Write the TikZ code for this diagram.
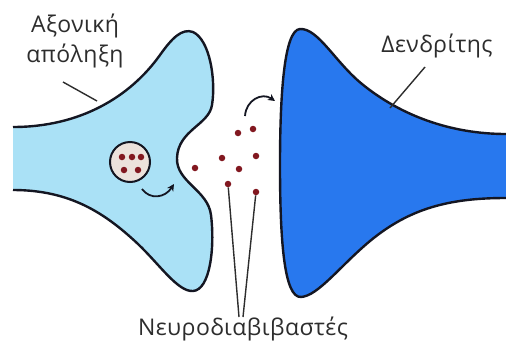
\documentclass[tikz,border=0pt]{standalone}
\usepackage{fontspec}
\setmainfont{Open Sans}[LetterSpace=2]
\usetikzlibrary{arrows.meta}
\definecolor{axonfill}{RGB}{170,225,246}
\definecolor{dendfill}{RGB}{40,120,238}
\definecolor{outline}{RGB}{20,22,34}
\definecolor{ntred}{RGB}{130,24,32}
\definecolor{vesfill}{RGB}{236,226,220}
\definecolor{labelgray}{RGB}{45,45,45}
\tikzset{
  membrane/.style={draw=outline, line width=2.4pt, line join=round},
  ntdot/.style={circle, fill=ntred, inner sep=0pt, minimum size=6.5pt},
  leader/.style={draw=labelgray, line width=1.4pt},
  flow/.style={draw=outline, line width=1.8pt, -{Stealth[length=7pt,width=7pt]}},
  lbl/.style={text=labelgray, font=\fontsize{23}{30}\selectfont, align=center, inner sep=0pt}
}
\begin{document}
\begin{tikzpicture}[x=1pt,y=-1pt]
\useasboundingbox (0,0) rectangle (506,346);
\fill[white] (0,0) rectangle (506,346);

% presynaptic terminal (axon end)
\def\axonpath{(13,127) .. controls (80,127) and (130,97) .. (160,55)
  .. controls (172,38) and (182,28) .. (193,32)
  .. controls (210,40) and (216,80) .. (212,105)
  .. controls (209,125) and (178,130) .. (177,158)
  .. controls (176,182) and (208,190) .. (211,215)
  .. controls (215,248) and (210,290) .. (193,291)
  .. controls (178,292) and (160,265) .. (138,244)
  .. controls (105,213) and (70,190) .. (13,190)}
\fill[axonfill] \axonpath -- cycle;
\draw[membrane] \axonpath;

% postsynaptic dendrite
\def\dendpath{(506,134) .. controls (450,134) and (400,115) .. (362,84)
  .. controls (335,62) and (318,28) .. (300,29)
  .. controls (284,30) and (280,95) .. (280,165)
  .. controls (280,240) and (284,298) .. (301,297)
  .. controls (318,296) and (340,266) .. (370,241)
  .. controls (410,208) and (450,198) .. (506,198)}
\fill[dendfill] \dendpath -- cycle;
\draw[membrane] \dendpath;

% vesicle with its load
\node[circle, draw=outline, fill=vesfill, line width=2pt, minimum size=40pt, inner sep=0pt] (ves) at (130,162) {};
\node[ntdot] (v1) at (122,157) {};
\node[ntdot] (v2) at (132,157) {};
\node[ntdot] (v3) at (141,157) {};
\node[ntdot] (v4) at (124,170) {};
\node[ntdot] (v5) at (138,170) {};

% released transmitter molecules
\node[ntdot] (d1) at (238,133) {};
\node[ntdot] (d2) at (253,129) {};
\node[ntdot] (d3) at (222,158) {};
\node[ntdot] (d4) at (256,156) {};
\node[ntdot] (d5) at (195,168) {};
\node[ntdot] (d6) at (239,169) {};
\node[ntdot] (d7) at (228,184) {};
\node[ntdot] (d8) at (256,192) {};

% release and binding arrows
\coordinate (r0) at (142,189);
\coordinate (r1) at (174,184);
\draw[flow] (r0) .. controls (150,200) and (165,198) .. (r1);
\coordinate (b0) at (245,116);
\coordinate (b1) at (275,101);
\draw[flow] (b0) .. controls (246,100) and (262,92) .. (b1);

% labels (base anchor sits on the last line)
\node[lbl, anchor=base] (axlbl) at (75,62) {Αξονική\\απόληξη};
\node[lbl, anchor=base] (dnlbl) at (437,52) {Δενδρίτης};
\node[lbl, anchor=base] (ntlbl) at (243,335) {Νευροδιαβιβαστές};

\coordinate (axtip) at (97,101);
\coordinate (axtail) at (63,82);
\draw[leader] (axtail) -- (axtip);
\coordinate (dntip) at (390,108);
\coordinate (dntail) at (425,67);
\draw[leader] (dntail) -- (dntip);

\coordinate (nt1) at (239,317);
\coordinate (nt2) at (243,317);
\draw[leader] (d7) -- (nt1);
\draw[leader] (d8) -- (nt2);
\end{tikzpicture}
\end{document}
